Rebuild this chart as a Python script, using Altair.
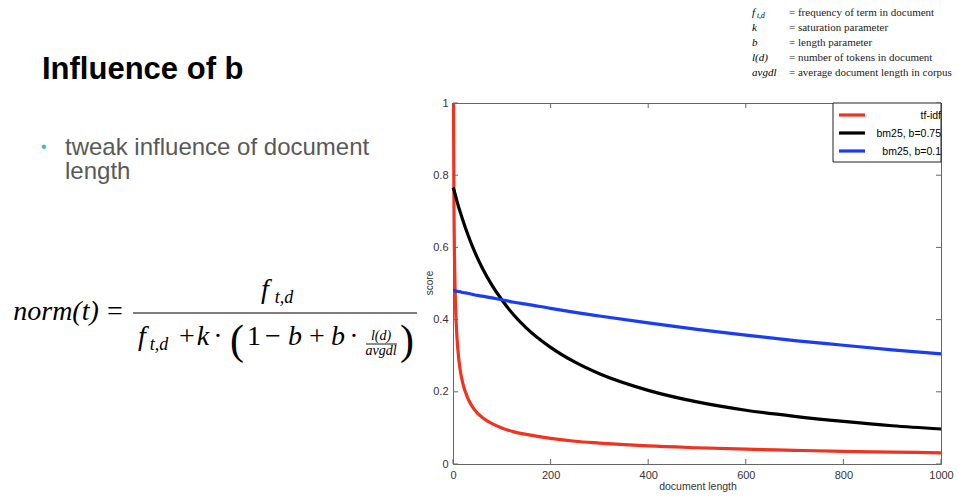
import altair as alt
import pandas as pd

# ---------------------------------------------------------------------------
# data
# ---------------------------------------------------------------------------
doc_length = [0, 1, 2, 3, 4, 5, 7, 10, 15, 20, 30, 40, 50, 60, 80, 100, 125,
              150, 200, 250, 300, 400, 500, 600, 700, 800, 900, 1000]
tfidf = [None, 1.0, 0.707, 0.577, 0.500, 0.447, 0.378, 0.316, 0.258, 0.224,
         0.183, 0.158, 0.141, 0.129, 0.112, 0.100, 0.089, 0.082, 0.071, 0.063,
         0.058, 0.050, 0.045, 0.041, 0.038, 0.035, 0.033, 0.031]
bm25_b075 = [0.766, 0.763, 0.759, 0.754, 0.749, 0.744, 0.734, 0.719, 0.697,
             0.676, 0.637, 0.602, 0.571, 0.543, 0.495, 0.455, 0.412, 0.377,
             0.323, 0.282, 0.250, 0.204, 0.172, 0.149, 0.132, 0.118, 0.106,
             0.097]
bm25_b01 = [0.481, 0.481, 0.480, 0.480, 0.480, 0.479, 0.478, 0.478, 0.477,
            0.475, 0.473, 0.470, 0.467, 0.465, 0.460, 0.455, 0.448, 0.443,
            0.431, 0.420, 0.410, 0.391, 0.373, 0.357, 0.342, 0.329, 0.316,
            0.305]

series_names = ["tf-idf", "bm25, b=0.75", "bm25, b=0.1"]
series_colors = ["#f0321e", "#000000", "#1a3cf2"]

x_ticks = [0, 200, 400, 600, 800, 1000]
y_ticks = [0, 0.2, 0.4, 0.6, 0.8, 1.0]

symbols = ["k", "b", "l(d)", "avgdl"]
definitions = ["= frequency of term in document", "= saturation parameter",
               "= length parameter", "= number of tokens in document",
               "= average document length in corpus"]

rows = []
for name, values in zip(series_names, [tfidf, bm25_b075, bm25_b01]):
    for x, v in zip(doc_length, values):
        if v is not None:
            rows.append({"length": x, "score": v, "series": name})
curves = pd.DataFrame(rows)

# ---------------------------------------------------------------------------
# layout (page pixels); plot area origin
# ---------------------------------------------------------------------------
OX, OY = 453, 103
W, H = 488, 361
SANS = "Liberation Sans"
SERIF = "Liberation Serif"

one = pd.DataFrame({"k": [0]})


def txt(s, x, y, size, font=SERIF, style="normal", weight="normal",
        align="left", color="#000000", angle=None):
    kw = dict(text=s, align=align, baseline="alphabetic", font=font,
              fontSize=size, fontStyle=style, fontWeight=weight, color=color)
    if angle is not None:
        kw["angle"] = angle
    return alt.Chart(one).mark_text(**kw).encode(
        x=alt.value(x - OX), y=alt.value(y - OY))


def hbar(x1, x2, y, width=1.2):
    return alt.Chart(one).mark_rule(color="#000000", strokeWidth=width).encode(
        x=alt.value(x1 - OX), x2=alt.value(x2 - OX), y=alt.value(y - OY))


xs = alt.Scale(domain=[0, 1000], nice=False)
ys = alt.Scale(domain=[0, 1], nice=False)

axis_style = dict(title=None, grid=False, domain=False, ticks=False,
                  tickSize=0, labelPadding=5, labelFlush=False,
                  labelFont=SANS, labelFontSize=11, labelColor="#333333")

lines = alt.Chart(curves).mark_line(strokeWidth=3.2, interpolate="monotone").encode(
    x=alt.X("length:Q", scale=xs,
            axis=alt.Axis(values=x_ticks, format="d", **axis_style)),
    y=alt.Y("score:Q", scale=ys,
            axis=alt.Axis(values=y_ticks, format="~g", **axis_style)),
    color=alt.Color("series:N", scale=alt.Scale(domain=series_names,
                                                range=series_colors),
                    legend=None),
    order=alt.Order("series_order:Q"),
).transform_calculate(
    series_order="indexof(%s, datum.series)" % str(series_names)
)

# inward tick marks on all four sides of the frame
xt = pd.DataFrame({"v": x_ticks})
yt = pd.DataFrame({"v": y_ticks})
tick_color = "#666666"
ticks = [
    alt.Chart(xt).mark_rule(color=tick_color).encode(
        x=alt.X("v:Q", scale=xs), y=alt.value(H), y2=alt.value(H - 5)),
    alt.Chart(xt).mark_rule(color=tick_color).encode(
        x=alt.X("v:Q", scale=xs), y=alt.value(0), y2=alt.value(5)),
    alt.Chart(yt).mark_rule(color=tick_color).encode(
        y=alt.Y("v:Q", scale=ys), x=alt.value(0), x2=alt.value(5)),
    alt.Chart(yt).mark_rule(color=tick_color).encode(
        y=alt.Y("v:Q", scale=ys), x=alt.value(W), x2=alt.value(W - 5)),
]

# legend box in the upper right corner
legend = [alt.Chart(one).mark_rect(fill="#ffffff", stroke="#222222",
                                   strokeWidth=1).encode(
    x=alt.value(833 - OX), x2=alt.value(941 - OX),
    y=alt.value(103 - OY), y2=alt.value(162 - OY))]
for i, (name, col) in enumerate(zip(series_names, series_colors)):
    yy = 115 + 18 * i
    legend.append(alt.Chart(one).mark_rule(color=col, strokeWidth=3.2).encode(
        x=alt.value(839 - OX), x2=alt.value(865 - OX), y=alt.value(yy - OY)))
    legend.append(txt(name, 941, yy + 4, 10.5, font=SANS, align="right"))

axis_titles = [
    txt("document length", 698, 490, 10.5, font=SANS, align="center",
        color="#333333"),
    txt("score", 433, 283, 10, font=SANS, align="center", color="#333333",
        angle=270),
]

# slide heading and bullet
slide = [
    txt("Influence of b", 42, 79, 31, font=SANS, weight="bold"),
    txt("\u2022", 41, 152, 16, font=SANS, color="#4db6ac"),
    txt("tweak influence of document", 65, 155, 24, font=SANS,
        color="#595959"),
    txt("length", 65, 179, 24, font=SANS, color="#595959"),
]

# normalisation formula
F = 28
formula = [
    txt("norm(t)", 56, 320, F, style="italic", align="center"),
    txt("=", 115, 320, F, align="center"),
    hbar(133, 417, 313),
    txt("f", 265, 298, F, style="italic", align="center"),
    txt("t,d", 284, 303, 18, style="italic", align="center"),
    txt("f", 142, 345, F, style="italic", align="center"),
    txt("t,d", 159, 350, 18, style="italic", align="center"),
    txt("+", 187, 345, F, align="center"),
    txt("k", 203, 345, F, style="italic", align="center"),
    txt("\u00b7", 218, 345, F, align="center"),
    txt("(", 237, 354, 42, align="center"),
    txt("1", 254, 345, F, align="center"),
    txt("\u2212", 273, 345, F, align="center"),
    txt("b", 295, 345, F, style="italic", align="center"),
    txt("+", 317, 345, F, align="center"),
    txt("b", 338, 345, F, style="italic", align="center"),
    txt("\u00b7", 354, 345, F, align="center"),
    txt("l(d)", 381, 340, 14, style="italic", align="center"),
    hbar(366, 397, 344, 0.9),
    txt("avgdl", 381, 355, 14, style="italic", align="center"),
    txt(")", 407, 354, 42, align="center"),
]

# symbol definitions in the top right corner
defs = [
    txt("f", 752, 16, 11, style="italic"),
    txt("t,d", 757, 18, 7.5, style="italic"),
]
for i, s in enumerate(symbols):
    defs.append(txt(s, 752, 31 + 15 * i, 11, style="italic"))
for i, d in enumerate(definitions):
    defs.append(txt(d, 789, 16 + 15 * i, 11, color="#222222"))

chart = alt.layer(
    lines, *ticks, *legend, *axis_titles, *slide, *formula, *defs
).properties(
    width=W, height=H,
    padding={"left": OX, "top": OY, "right": 959 - OX - W,
             "bottom": 504 - OY - H},
    autosize=alt.AutoSizeParams(type="none"),
    background="#ffffff",
).configure_view(
    stroke="#666666", strokeWidth=1
)

chart.save("out.html", embed_options={"renderer": "svg", "actions": False})
